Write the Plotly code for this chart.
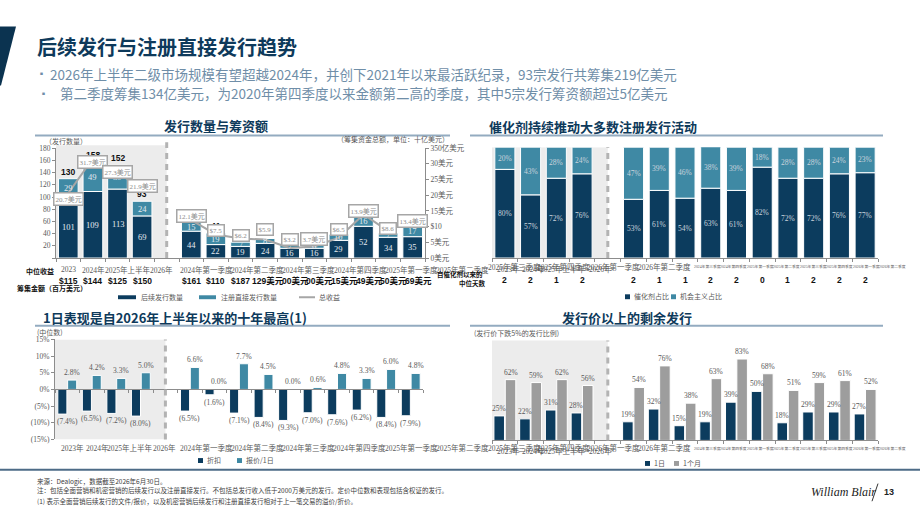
import plotly.graph_objects as go

W, H = 920, 518
def px(x): return x / W
def py(y): return 1 - y / H

SERIF = "Liberation Serif, Noto Sans CJK SC, serif"
SANS = "Noto Sans CJK SC, Noto Sans, sans-serif"
LSANS = "Liberation Sans, Noto Sans CJK SC, sans-serif"
DARK = "#0c3c5e"; TEAL = "#3f89a4"; GREYBAR = "#9d9d9d"
TITLE_C = "#0e3a5b"; AXIS_C = "#8c8c8c"; TXT = "#595959"; SHADE = "#ececec"
DASH_C = "#b3b3b3"; LINE_C = "#a6a6a6"; UNDER_C = "#93abc0"; BUL_C = "#6f8ea8"

# ---------------- data ----------------
slot_names = ["2023年", "2024年", "2025年", "2026年上半年", "",
              "2024年第一季度", "2024年第二季度", "2024年第三季度", "2024年第四季度",
              "2025年第一季度", "2025年第二季度", "2025年第三季度", "2025年第四季度",
              "2026年第一季度", "2026年第二季度"]

# chart 1: issuance count & proceeds
follow_on_count = [101, 109, 113, 69, None, 44, 22, 19, 24, 16, 16, 29, 52, 34, 35]
rdo_count = [29, 49, 39, 24, None, 15, 19, 7, 8, 7, 6, 10, 16, 7, 17]
total_count = [130, 158, 152, 93, None, 59, 41, 26, 32, 23, 22, 39, 68, 41, 52]
total_proceeds = [20.7, 31.7, 27.3, 21.9, None, 12.1, 7.5, 6.2, 5.9, 3.2, 3.7, 6.5, 13.9, 8.6, 13.4]
proceeds_labels = ["20.7美元", "31.7美元", "27.3美元", "21.9美元", "", "12.1美元", "$7.5", "$6.2",
                   "$5.9", "$3.2", "3.7美元", "$6.5", "13.9美元", "$8.6", "13.4美元"]
median_proceeds_labels = ["$115", "$144", "$125", "$150", "", "$161", "$110", "$187",
                          "129美元", "00美元", "00美元", "15美元", "49美元", "50美元", "69美元"]
c1_tick_labels = ["2023", "2024年", "2025年上半年", "2026年", "2024年第一季度", "2024年第二季度",
                  "2024年第三季度", "2024年第四季度", "2025年第一季度", "2025年第二季度"]
c1_left_ticks = [0, 20, 40, 60, 80, 100, 120, 140, 160, 180]
c1_right_ticks = [0, 5, 10, 15, 20, 25, 30, 35]
c1_right_tick_labels = ["0美元", "5美元", "$10", "15美元", "20美元", "25美元", "30美元", "350亿美元"]

# chart 2: catalyst vs opportunistic
catalyst_pct = [80, 57, 72, 76, None, 53, 61, 54, 63, 61, 82, 72, 72, 76, 77]
opportunistic_pct = [20, 43, 28, 24, None, 47, 39, 46, 38, 39, 18, 28, 28, 24, 23]
median_days = [2, 2, 1, 2, None, 2, 1, 1, 2, 2, 0, 1, 2, 2, 2]

# chart 3: 1-day performance
discount_pct = [-7.4, -6.5, -7.2, -8.0, None, -6.5, -1.6, -7.1, -8.4, -9.3, -7.0, -7.6, -6.2, -8.4, -7.9]
offer_1d_pct = [2.8, 4.2, 3.3, 5.0, None, 6.6, 0.0, 7.7, 4.5, 0.0, 0.6, 4.8, 3.3, 6.0, 4.8]
c3_ticks = [-15, -10, -5, 0, 5, 10, 15]
c3_tick_labels = ["(15%)", "(10%)", "(5%)", "0%", "5%", "10%", "15%"]
c3_tick_labels_x = ["2023年", "2024年", "2025年上半年", "2026年", "2024年第一季度", "2024年第二季度",
                    "2024年第三季度", "2024年第四季度", "2025年第一季度", "2025年第二季度"]

# chart 4: above offer
above_1d_pct = [25, 22, 31, 28, None, 19, 32, 15, 19, 39, 50, 18, 29, 29, 27]
above_1m_pct = [62, 59, 62, 56, None, 54, 76, 38, 63, 83, 68, 51, 59, 61, 52]

right_rowA = ["2025年第三季度", "2025年第四季度", "2026年第一季度", "2026年第二季度"]
right_rowB = ["2023年", "2024年", "2025年上半年", "2026年"]
right_tiny = ["2024年第三季度", "2024年第四季度", "2025年第一季度", "2025年第二季度",
              "2025年第三季度", "2025年第四季度", "2026年第一季度", "2026年第二季度"]

# ---------------- label placement (pixels) ----------------
c1_label_px = [68, 93, 128, 161, 206, 257, 308, 360, 411, 462]
c3_label_px = [72, 97, 130, 164, 206, 257, 308, 359, 411, 462]
rowA_px = [514, 563, 613, 664]
rowB_px = [508, 533, 563, 600]
tiny_px = [707 + 26.5 * k for k in range(8)]
proceeds_dy = [-6, -3, 0, 3, 0, 4, 4, 3, 10, 8, 7, 8, 3, 3, -5]

fig = go.Figure()
annotations = []
shapes = []

def ann(x, y, text, size=7.5, color=TXT, family=SERIF, xanchor="center", yanchor="middle",
        xref="paper", yref="paper", **kw):
    annotations.append(dict(
        x=px(x) if xref == "paper" else x,
        y=py(y) if yref == "paper" else y,
        xref=xref, yref=yref, text=text, showarrow=False,
        font=dict(size=size, color=color, family=family),
        xanchor=xanchor, yanchor=yanchor, **kw))

def hline(x0, x1, y, color, width):
    shapes.append(dict(type="line", xref="paper", yref="paper", x0=px(x0), x1=px(x1),
                       y0=py(y), y1=py(y), line=dict(color=color, width=width)))

def rect(x0, x1, y0, y1, color):
    shapes.append(dict(type="rect", xref="paper", yref="paper", x0=px(x0), x1=px(x1),
                       y0=py(y0), y1=py(y1), fillcolor=color, line=dict(width=0)))

idx = list(range(len(slot_names)))
bar_line = dict(color="white", width=1)

# ================= chart 1 =================
fig.add_bar(x=idx, y=follow_on_count, width=0.8, marker=dict(color=DARK, line=bar_line),
            xaxis="x", yaxis="y", hoverinfo="skip")
base_rdo = [v if v is not None else 0 for v in follow_on_count]
fig.add_bar(x=idx, y=rdo_count, base=base_rdo, width=0.8, marker=dict(color=TEAL, line=bar_line),
            xaxis="x", yaxis="y", hoverinfo="skip")
fig.add_scatter(x=idx, y=total_proceeds, mode="lines", line=dict(color=LINE_C, width=2),
                xaxis="x", yaxis="y2", connectgaps=False, hoverinfo="skip")

for i in idx:
    fo = follow_on_count[i]
    if fo is None:
        continue
    rd = rdo_count[i]
    ann(i, fo / 2, str(fo), size=8.5, color="#e4eaf0", xref="x", yref="y")
    ann(i, fo + rd / 2, str(rd), size=8.5, color="#e4eaf0", xref="x", yref="y")
    ann(i, total_count[i], "<b>%d</b>" % total_count[i], size=8.5, color="#111111", family=LSANS,
        yanchor="bottom", xref="x", yref="y")
    ann(i, total_proceeds[i], proceeds_labels[i], size=7, color="#8c8c8c", xref="x", yref="y2",
        yshift=proceeds_dy[i], bgcolor="white", bordercolor="#a6a6a6", borderwidth=1.5, borderpad=1)
    lab = median_proceeds_labels[i]
    if lab.endswith("美元"):
        ann(i, 281, "<b>%s</b>" % lab, size=8.5, color="#111111", family=LSANS, xref="x",
            xanchor="right", xshift=21)
    else:
        ann(i, 281, "<b>%s</b>" % lab, size=8.5, color="#111111", family=LSANS, xref="x")

for t, xp in zip(c1_tick_labels, c1_label_px):
    ann(xp, 270, t, size=7.5)
ann(40, 271, "<b>中位收益</b>", size=7, color="#111111", family=SANS)
ann(15, 289, "<b>筹集金额（百万美元）</b>", size=7, color="#111111", family=SANS, xanchor="left")
ann(43, 139, "（发行数量）", size=7, family=SANS, xanchor="left")
ann(393, 137, "（筹集资金总额，单位：十亿美元）", size=7, family=SANS)
ann(216, 123, "<b>发行数量与筹资额</b>", size=13, color=TITLE_C, family=SANS)
hline(35, 450, 133, UNDER_C, 2)

# legend chart 1
rect(118, 136, 296, 300, DARK)
ann(139, 298, "后续发行数量", size=7, family=SANS, xanchor="left")
rect(199, 216, 296, 300, TEAL)
ann(219, 298, "注册直接发行数量", size=7, family=SANS, xanchor="left")
hline(299, 315, 298, LINE_C, 2)
ann(317, 298, "总收益", size=7, family=SANS, xanchor="left")

shapes.append(dict(type="rect", xref="x", yref="paper", x0=-0.5, x1=4, y0=py(258), y1=py(143),
                   fillcolor=SHADE, line=dict(width=0), layer="below"))
shapes.append(dict(type="line", xref="x", yref="paper", x0=4, x1=4, y0=py(258), y1=py(140),
                   line=dict(color=DASH_C, width=3, dash="6px,5px")))

# ================= chart 2 =================
fig.add_bar(x=idx, y=catalyst_pct, width=0.78, marker=dict(color=DARK, line=bar_line),
            xaxis="x2", yaxis="y3", hoverinfo="skip")
base_opp = [v if v is not None else 0 for v in catalyst_pct]
fig.add_bar(x=idx, y=opportunistic_pct, base=base_opp, width=0.78, marker=dict(color=TEAL, line=bar_line),
            xaxis="x2", yaxis="y3", hoverinfo="skip")
for i in idx:
    c = catalyst_pct[i]
    if c is None:
        continue
    o = opportunistic_pct[i]
    ann(i, c / 2, "%d%%" % c, size=7.5, color="#c9d3dc", xref="x2", yref="y3")
    ann(i, c + o / 2, "%d%%" % o, size=7.5, color="#c9d3dc", xref="x2", yref="y3")
    ann(i, 280, "<b>%d</b>" % median_days[i], size=8.5, color="#111111", family=LSANS, xref="x2")

for t, xp in zip(right_rowA, rowA_px):
    ann(xp, 267, t, size=7.5)
for t, xp in zip(right_rowB, rowB_px):
    ann(xp, 269, t, size=7.5)
for t, xp in zip(right_tiny, tiny_px):
    ann(xp, 267, t, size=3.8)
ann(485, 274, "<b>自催化剂以来的</b>", size=6.5, color="#111111", family=SANS, xanchor="right")
ann(488, 283, "<b>中位天数</b>", size=6.5, color="#111111", family=SANS, xanchor="right")
ann(593, 124, "<b>催化剂持续推动大多数注册发行活动</b>", size=13, color=TITLE_C, family=SANS)
hline(470, 883, 133, UNDER_C, 2)

rect(625, 630, 295, 300, DARK)
ann(632, 297, "催化剂占比", size=7, family=SANS, xanchor="left")
rect(671, 676, 295, 300, TEAL)
ann(678, 297, "机会主义占比", size=7, family=SANS, xanchor="left")

shapes.append(dict(type="rect", xref="x2", yref="y3", x0=-0.5, x1=4, y0=0, y1=100,
                   fillcolor=SHADE, line=dict(width=0), layer="below"))
shapes.append(dict(type="line", xref="x2", yref="paper", x0=4, x1=4, y0=py(258), y1=py(145),
                   line=dict(color=DASH_C, width=3, dash="6px,5px")))

# ================= chart 3 =================
fig.add_bar(x=[i - 0.2 for i in idx], y=discount_pct, width=0.37, marker=dict(color=DARK, line=bar_line),
            xaxis="x3", yaxis="y4", hoverinfo="skip")
fig.add_bar(x=[i + 0.2 for i in idx], y=offer_1d_pct, width=0.37, marker=dict(color=TEAL, line=bar_line),
            xaxis="x3", yaxis="y4", hoverinfo="skip")
for i in idx:
    d = discount_pct[i]
    if d is None:
        continue
    o = offer_1d_pct[i]
    ann(i, d, "(%.1f%%)" % abs(d), size=7.5, xref="x3", yref="y4", yanchor="top", yshift=-1)
    ann(i + 0.2, o, "%.1f%%" % o, size=7.5, xref="x3", yref="y4", yanchor="bottom", yshift=1)
for t, xp in zip(c3_tick_labels_x, c3_label_px):
    ann(xp, 452, t, size=7.5)
ann(35, 333, "(中位数)", size=7, family=SANS, xanchor="left")
ann(175, 319, "<b>1日表现是自2026年上半年以来的十年最高(1)</b>", size=13, color=TITLE_C, family=SANS)
hline(35, 450, 327, UNDER_C, 2)

rect(198, 203, 462, 467, DARK)
ann(205, 464, "折扣", size=7, family=SANS, xanchor="left")
rect(237, 242, 462, 467, TEAL)
ann(244, 464, "报价/1日", size=7, family=SANS, xanchor="left")

shapes.append(dict(type="rect", xref="x3", yref="y4", x0=-0.5, x1=4, y0=-15, y1=15,
                   fillcolor=SHADE, line=dict(width=0), layer="below"))
shapes.append(dict(type="line", xref="x3", yref="paper", x0=4, x1=4, y0=py(443), y1=py(341),
                   line=dict(color=DASH_C, width=3, dash="6px,5px")))

# ================= chart 4 =================
fig.add_bar(x=[i - 0.22 for i in idx], y=above_1d_pct, width=0.41, marker=dict(color=DARK, line=bar_line),
            xaxis="x4", yaxis="y5", hoverinfo="skip")
fig.add_bar(x=[i + 0.22 for i in idx], y=above_1m_pct, width=0.41, marker=dict(color=GREYBAR, line=bar_line),
            xaxis="x4", yaxis="y5", hoverinfo="skip")
for i in idx:
    a = above_1d_pct[i]
    if a is None:
        continue
    m = above_1m_pct[i]
    ann(i - 0.22, a, "%d%%" % a, size=7.5, xref="x4", yref="y5", yanchor="bottom", yshift=1)
    ann(i + 0.22, m, "%d%%" % m, size=7.5, xref="x4", yref="y5", yanchor="bottom", yshift=1)
for t, xp in zip(right_rowA, rowA_px):
    ann(xp, 452, t, size=7.5)
for t, xp in zip(right_rowB, rowB_px):
    ann(xp, 455, t, size=7.5)
for t, xp in zip(right_tiny, tiny_px):
    ann(xp, 452, t, size=3.8)
ann(472, 334, "(发行价下跌5%的发行比例)", size=7, family=SANS, xanchor="left")
ann(627, 319, "<b>发行价以上的剩余发行</b>", size=13, color=TITLE_C, family=SANS)
hline(470, 883, 327, UNDER_C, 2)

rect(645, 650, 465, 470, DARK)
ann(652, 467, "1日", size=7, family=SANS, xanchor="left")
rect(674, 679, 465, 470, GREYBAR)
ann(681, 467, "1个月", size=7, family=SANS, xanchor="left")

shapes.append(dict(type="rect", xref="x4", yref="paper", x0=-0.5, x1=4, y0=py(444), y1=py(342),
                   fillcolor=SHADE, line=dict(width=0), layer="below"))
shapes.append(dict(type="line", xref="x4", yref="paper", x0=4, x1=4, y0=py(444), y1=py(342),
                   line=dict(color=DASH_C, width=3, dash="6px,5px")))

# ================= page header / footer =================
shapes.append(dict(type="path", xref="paper", yref="paper",
                   path="M %f,%f L %f,%f L %f,%f L %f,%f Z" % (px(0), py(22), px(16), py(22), px(1), py(82), px(0), py(82)),
                   fillcolor="#0b3350", line=dict(width=0)))
ann(35, 42, "<b>后续发行与注册直接发行趋势</b>", size=20, color=TITLE_C, family=SANS, xanchor="left")
ann(35, 70, "▪", size=9, color=BUL_C, family=SANS, xanchor="left")
ann(48, 70, "2026年上半年二级市场规模有望超越2024年，并创下2021年以来最活跃纪录，93宗发行共筹集219亿美元",
    size=13.5, color=BUL_C, family=SANS, xanchor="left")
ann(37, 90, "▪", size=9, color=BUL_C, family=SANS, xanchor="left")
ann(58, 90, "第二季度筹集134亿美元，为2020年第四季度以来金额第二高的季度，其中5宗发行筹资额超过5亿美元",
    size=13.5, color=BUL_C, family=SANS, xanchor="left")

hline(0, 920, 474, "#4d6b87", 2)
ann(35, 485, "来源：Dealogic，数据截至2026年6月30日。", size=6.5, color="#404040", family=SANS, xanchor="left")
ann(35, 495, "注：包括全面营销和机密营销的后续发行以及注册直接发行。不包括总发行收入低于2000万美元的发行。定价中位数和表现包括含权证的发行。",
    size=6.5, color="#404040", family=SANS, xanchor="left")
ann(35, 506, "(1) 表示全面营销后续发行的文件/报价，以及机密营销后续发行和注册直接发行相对于上一笔交易的溢价/折价。",
    size=6.5, color="#404040", family=SANS, xanchor="left")
ann(843, 497, "<i>William Blair</i>", size=12, color="#222222", family="Liberation Serif, serif")
shapes.append(dict(type="line", xref="paper", yref="paper", x0=px(872), x1=px(878), y0=py(506), y1=py(488),
                   line=dict(color="#333333", width=1)))
ann(882, 497, "<b>13</b>", size=9, color="#222222", family=LSANS, xanchor="left")

# ================= axes =================
base_ax = dict(showgrid=False, zeroline=False, fixedrange=True)
bound_ticks = [k - 0.5 for k in range(16)]
xcommon = dict(range=[-0.5, 14.5], showline=True, linecolor=AXIS_C, linewidth=1, ticks="outside",
               ticklen=3, tickcolor=AXIS_C, tickvals=bound_ticks, showticklabels=False, **base_ax)
tfont = dict(family=SERIF, size=7.5, color=TXT)

c3_zero = (py(443) + py(341)) / 2

fig.update_layout(
    width=W, height=H, margin=dict(l=0, r=0, t=0, b=0),
    paper_bgcolor="white", plot_bgcolor="rgba(0,0,0,0)",
    showlegend=False, barmode="overlay",
    xaxis=dict(domain=[px(56), px(425)], anchor="y", **xcommon),
    yaxis=dict(domain=[py(258), py(146)], range=[0, 180], anchor="x", showline=True, linecolor=AXIS_C,
               ticks="outside", ticklen=3, tickcolor=AXIS_C, tickvals=c1_left_ticks,
               ticktext=[""] + [str(v) for v in c1_left_ticks[1:]], tickfont=tfont, **base_ax),
    yaxis2=dict(overlaying="y", side="right", anchor="x", range=[0, 35], showline=True, linecolor=AXIS_C,
                ticks="outside", ticklen=3, tickcolor=AXIS_C, tickvals=c1_right_ticks,
                ticktext=c1_right_tick_labels, tickfont=tfont, **base_ax),
    xaxis2=dict(domain=[px(492), px(878)], anchor="y3", **xcommon),
    yaxis3=dict(domain=[py(258), py(145)], range=[0, 100], anchor="x2", showline=False,
                showticklabels=False, ticks="", **base_ax),
    xaxis3=dict(domain=[px(55), px(423)], anchor="free", position=c3_zero, **xcommon),
    yaxis4=dict(domain=[py(443), py(341)], range=[-15, 15], anchor="x3", showline=True, linecolor=AXIS_C,
                ticks="outside", ticklen=3, tickcolor=AXIS_C, tickvals=c3_ticks, ticktext=c3_tick_labels,
                tickfont=tfont, **base_ax),
    xaxis4=dict(domain=[px(492), px(878)], anchor="y5", **xcommon),
    yaxis5=dict(domain=[py(444), py(342)], range=[0, 102], anchor="x4", showline=False,
                showticklabels=False, ticks="", **base_ax),
    annotations=annotations, shapes=shapes,
)

fig.write_html("out.html")
